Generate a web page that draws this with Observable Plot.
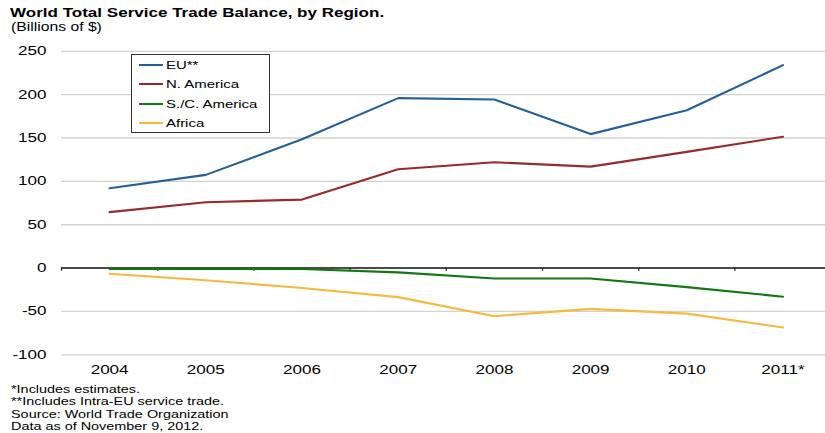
<!DOCTYPE html>
<html>
<head>
<meta charset="utf-8">
<script src="https://cdn.jsdelivr.net/npm/d3@7"></script>
<script src="https://cdn.jsdelivr.net/npm/@observablehq/plot@0.6"></script>
<style>
  html, body { margin: 0; padding: 0; background: #fff; }
  #wrap { position: relative; width: 825px; height: 433px; overflow: hidden; font-family: "Liberation Sans", Arial, sans-serif; color: #000; }
  .st { position: absolute; white-space: nowrap; transform-origin: 0 0; transform: scaleX(1.31); }
  #title { left: 10px; top: 5.7px; font-size: 13px; line-height: 13px; font-weight: bold; }
  #subtitle { left: 11px; top: 20.5px; font-size: 12px; line-height: 12px; }
  #notes { left: 11px; top: 382.5px; font-size: 11px; line-height: 12.5px; }
  #chart { position: absolute; left: 0; top: 34px; }
  #legend { position: absolute; left: 131px; top: 53.5px; width: 137px; height: 77px; border: 1px solid #333; background: #fff; }
  .lrow { position: absolute; left: 0; height: 0; }
  .lline { position: absolute; left: 7px; width: 24px; height: 2px; top: -1px; }
  .ltext { position: absolute; left: 34px; top: -7px; font-size: 11.5px; line-height: 14px; white-space: nowrap; transform-origin: 0 0; transform: scaleX(1.3); }
</style>
</head>
<body>
<div id="wrap">
  <div id="title" class="st">World Total Service Trade Balance, by Region.</div>
  <div id="subtitle" class="st">(Billions of $)</div>
  <div id="chart"></div>
  <div id="legend"></div>
  <div id="notes" class="st">*Includes estimates.<br>**Includes Intra-EU service trade.<br>Source: World Trade Organization<br>Data as of November 9, 2012.</div>
</div>
<script>
const years = [2004, 2005, 2006, 2007, 2008, 2009, 2010, 2011];
const yearLabels = ["2004", "2005", "2006", "2007", "2008", "2009", "2010", "2011*"];
const seriesNames = ["EU**", "N. America", "S./C. America", "Africa"];
const seriesColors = ["#23609a", "#982a2d", "#117711", "#f6b93b"];
const euValues = [92, 107.5, 148.5, 196, 194.5, 154.5, 182, 234];
const naValues = [64.5, 76, 79, 114, 122, 117, 134, 151.5];
const scaValues = [-1, -1, -1, -5, -12, -12, -22, -33];
const africaValues = [-6.5, -14, -23, -33.5, -55.5, -47, -52.5, -68.5];
const yTicks = [-100, -50, 0, 50, 100, 150, 200, 250];

const seriesValues = [euValues, naValues, scaValues, africaValues];
const rows = [];
seriesNames.forEach((name, i) => {
  years.forEach((yr, j) => rows.push({series: name, year: yr, value: seriesValues[i][j]}));
});
const boundaries = d3.range(years.length).map(i => years[0] - 0.5 + i);

const plot = Plot.plot({
  width: 825,
  height: 344,
  marginLeft: 61,
  marginRight: 0,
  marginTop: 16.8,
  marginBottom: 23.7,
  style: {fontFamily: "Liberation Sans, Arial, sans-serif", fontSize: "12px", color: "#000", background: "transparent"},
  x: {domain: [years[0] - 0.5, years[years.length - 1] + 0.5], range: [61, 830.6]},
  y: {domain: [-100, 250]},
  color: {domain: seriesNames, range: seriesColors},
  marks: [
    Plot.gridY(yTicks, {stroke: "#d2d2d2", strokeOpacity: 1, strokeWidth: 1.3}),
    Plot.ruleY([0], {stroke: "#4a4a4a", strokeWidth: 2}),
    Plot.ruleX(boundaries, {y1: 0, y2: -3.6, stroke: "#333", strokeWidth: 1.4}),
    Plot.line(rows, {x: "year", y: "value", z: "series", stroke: "series", strokeWidth: 2.1}),
    Plot.axisY(yTicks, {tickSize: 0, tickPadding: 15, fontSize: 12, fill: "#000", label: null,
      tickFormat: d => String(d)}),
    Plot.axisX(years, {tickSize: 0, tickPadding: 11, fontSize: 12, fill: "#000", label: null,
      tickFormat: d => yearLabels[years.indexOf(d)]})
  ]
});
document.getElementById("chart").appendChild(plot);

// horizontal stretch of svg text to match reference typography
plot.querySelectorAll("text").forEach(t => {
  const w = t.getComputedTextLength();
  if (w > 0) {
    t.setAttribute("textLength", (w * 1.42).toFixed(2));
    t.setAttribute("lengthAdjust", "spacingAndGlyphs");
  }
});

// legend
const legend = document.getElementById("legend");
const rowTops = [10, 29.5, 49, 68.5];
seriesNames.forEach((name, i) => {
  const r = document.createElement("div");
  r.className = "lrow";
  r.style.top = rowTops[i] + "px";
  const l = document.createElement("div");
  l.className = "lline";
  l.style.background = seriesColors[i];
  const t = document.createElement("div");
  t.className = "ltext";
  t.textContent = name;
  r.appendChild(l); r.appendChild(t);
  legend.appendChild(r);
});
</script>
</body>
</html>
